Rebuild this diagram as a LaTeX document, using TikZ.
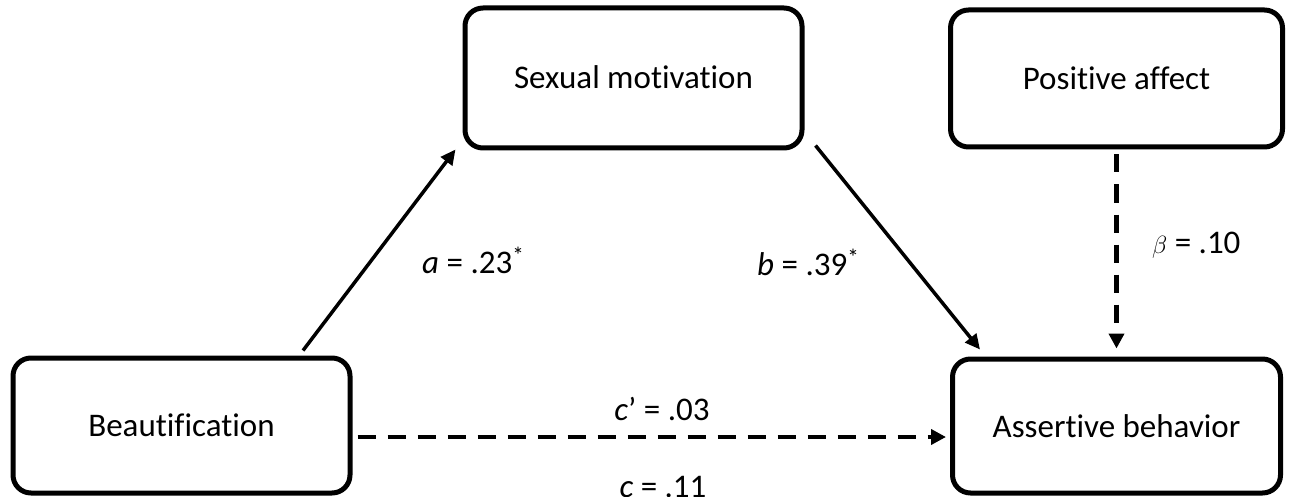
\documentclass[tikz,border=0pt]{standalone}
\usepackage{fontspec}
\setmainfont{Carlito}[Ligatures=CommonOff]
\usetikzlibrary{arrows.meta}
\begin{document}
\begin{tikzpicture}[x=1pt,y=-1pt,
  box/.style={draw, line width=5pt, rounded corners=18pt, inner sep=0pt,
    text height=22pt, text depth=0pt, font=\fontsize{33}{40}\selectfont},
  solidarrow/.style={line width=3.5pt, -{Triangle[length=15pt,width=14pt]}},
  dasharrow/.style={line width=4.5pt, dash pattern=on 18pt off 12pt, -{Triangle[length=15pt,width=15pt]}},
  lbl/.style={font=\fontsize{33}{40}\selectfont, inner sep=0pt}]
\useasboundingbox (0,0) rectangle (1292,497);
\clip (0,0) rectangle (1292,497);

\node[box, minimum width=337pt, minimum height=140pt] (sm) at (633.5,78) {Sexual motivation};
\node[box, minimum width=332pt, minimum height=137pt] (pa) at (1116.5,78.5) {Positive affect};
\node[box, minimum width=337pt, minimum height=135pt] (be) at (181.5,425.5) {Beautification};
\node[box, minimum width=328pt, minimum height=134pt] (ab) at (1116.5,426) {Assertive behavior};

\draw[solidarrow] ([xshift=121.5pt,yshift=5pt]be.north) -- ([xshift=-7pt,yshift=1pt]sm.south west);
\draw[solidarrow] ([xshift=11pt,yshift=5pt]sm.south east) -- ([xshift=30pt,yshift=7pt]ab.north west);
\draw[dasharrow] ([yshift=-5pt]pa.south) -- ([yshift=8pt]ab.north);
\draw[dasharrow] ([xshift=5pt,yshift=-11.5pt]be.east) -- ([xshift=-4pt,yshift=-11pt]ab.west);

\node[lbl, anchor=base west] (la) at (422,273) {\textit{a} = .23\textsuperscript{*}};
\node[lbl, anchor=base west] (lb) at (757,275) {\textit{b} = .39\textsuperscript{*}};
\node[lbl, anchor=base west] (lbeta) at (1152,253) {$\beta$ = .10};
\node[lbl, anchor=base] (lcp) at (662,420) {\textit{c}’ = .03};
\node[lbl, anchor=base] (lc) at (663,497) {\textit{c} = .11};
\end{tikzpicture}
\end{document}
